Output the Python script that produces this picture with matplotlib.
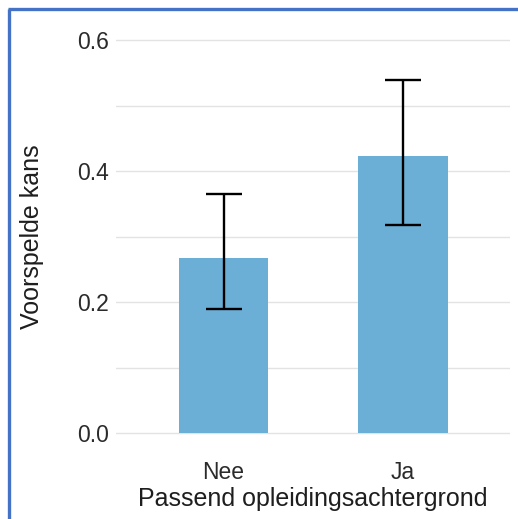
import matplotlib
matplotlib.use("Agg")
import matplotlib.pyplot as plt
from matplotlib.lines import Line2D

categories = ["Nee", "Ja"]
predicted = [0.268, 0.423]
lower = [0.189, 0.317]
upper = [0.365, 0.539]
yticks = [0.0, 0.2, 0.4, 0.6]

plt.rcParams['font.family'] = ['Liberation Sans', 'DejaVu Sans']

fig = plt.figure(figsize=(5.18, 5.19), dpi=100)
ax = fig.add_axes([0.224, 0.1277, 0.761, 0.833])

x = [1, 2]
ax.bar(x, predicted, width=0.5, color="#6BAED6", zorder=2)
yerr = [[p - l for p, l in zip(predicted, lower)], [u - p for p, u in zip(predicted, upper)]]
ax.errorbar(x, predicted, yerr=yerr, fmt='none', ecolor='black', elinewidth=1.7,
            capsize=13, capthick=1.7, zorder=3)

ax.set_xlim(0.4, 2.6)
ax.set_ylim(-0.03, 0.63)
ax.set_xticks(x)
ax.set_xticklabels(categories)
ax.set_yticks(yticks)
ax.set_yticklabels([f"{v:.1f}" for v in yticks])
ax.set_yticks([0.1, 0.3, 0.5], minor=True)
ax.grid(True, axis='y', which='both', color='#E3E3E3', linewidth=1.0, zorder=0)
ax.grid(False, axis='x')
for s in ax.spines.values():
    s.set_visible(False)
ax.tick_params(axis='both', which='both', length=0, labelsize=16.5, colors='#2b2b2b')
ax.tick_params(axis='y', pad=5)
ax.tick_params(axis='x', pad=6)
ax.set_ylabel("Voorspelde kans", fontsize=18, color='#1e1e1e')
ax.set_xlabel("Passend opleidingsachtergrond", fontsize=18, color='#1e1e1e')
ax.yaxis.set_label_coords(-0.183, 0.5)
ax.xaxis.set_label_coords(0.5, -0.079)

fig.add_artist(Line2D([9/518, 9/518], [0, 1 - 8.5/519], transform=fig.transFigure,
                      color='#4472C4', linewidth=2.4, solid_capstyle='butt'))
fig.add_artist(Line2D([7.5/518, 1], [1 - 8.7/519, 1 - 8.7/519], transform=fig.transFigure,
                      color='#4472C4', linewidth=2.4, solid_capstyle='butt'))

fig.savefig("out.png", dpi=100)
